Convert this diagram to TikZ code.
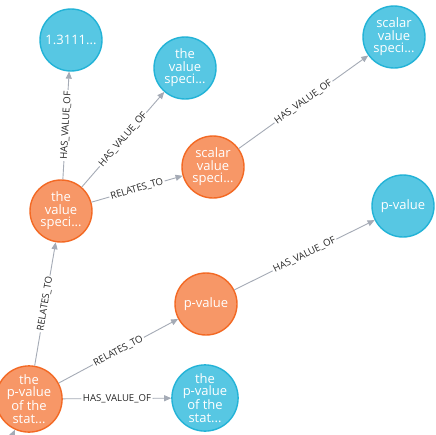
\documentclass[tikz,border=0pt]{standalone}
\usepackage{fontspec}
\setmainfont{Open Sans}
\definecolor{nodeorange}{HTML}{F79767}
\definecolor{edgeorange}{HTML}{F36924}
\definecolor{nodeblue}{HTML}{57C7E3}
\definecolor{edgeblue}{HTML}{23B3D7}
\definecolor{relgray}{HTML}{A5ABB6}
\usetikzlibrary{arrows.meta}

\tikzset{
  entity/.style={circle, minimum size=62pt, inner sep=0pt, line width=1.4pt, text=white, align=center, font=\fontsize{13}{12.5}\selectfont},
  subj/.style={entity, draw=edgeorange, fill=nodeorange},
  obj/.style={entity, draw=edgeblue, fill=nodeblue},
  rel/.style={draw=relgray, line width=0.9pt, -{Triangle[length=7pt, width=6pt]}},
  lbl/.style={midway, sloped, fill=white, inner sep=1.5pt, text=black!85, font=\fontsize{9.6}{10}\selectfont}
}

\begin{document}
\begin{tikzpicture}[x=1pt, y=-1pt]
  \clip (0,0) rectangle (436,434);
  \fill[white] (0,0) rectangle (436,434);

  % Value nodes
  \node[obj] (num) at (71,40) {1.3111...};
  \node[obj] (valspec) at (185,68) {the\\value\\speci...};
  \node[obj] (scalarval) at (394,37) {scalar\\value\\speci...};
  \node[obj] (pval) at (403,206) {p-value};
  \node[obj] (pstat) at (205,398) {the\\p-value\\of the\\stat...};

  % Subject nodes
  \node[subj] (valsubj) at (61,211) {the\\value\\speci...};
  \node[subj] (scalarsubj) at (213,167) {scalar\\value\\speci...};
  \node[subj] (psubj) at (206,304) {p-value};
  \node[subj] (statsubj) at (29,399) {the\\p-value\\of the\\stat...};
  \coordinate (offpage) at (-8,480);

  % Relations
  \draw[rel] (valsubj) -- node[lbl] {HAS\_VALUE\_OF} (num);
  \draw[rel] (valsubj) -- node[lbl] {HAS\_VALUE\_OF} (valspec);
  \draw[rel] (valsubj) -- node[lbl] {RELATES\_TO} (scalarsubj);
  \draw[rel] (scalarsubj) -- node[lbl] {HAS\_VALUE\_OF} (scalarval);
  \draw[rel] (statsubj) -- node[lbl] {RELATES\_TO} (valsubj);
  \draw[rel] (statsubj) -- node[lbl] {RELATES\_TO} (psubj);
  \draw[rel] (psubj) -- node[lbl] {HAS\_VALUE\_OF} (pval);
  \draw[rel] (statsubj) -- node[lbl] {HAS\_VALUE\_OF} (pstat);
  \draw[rel] (offpage) -- (statsubj);
\end{tikzpicture}
\end{document}
